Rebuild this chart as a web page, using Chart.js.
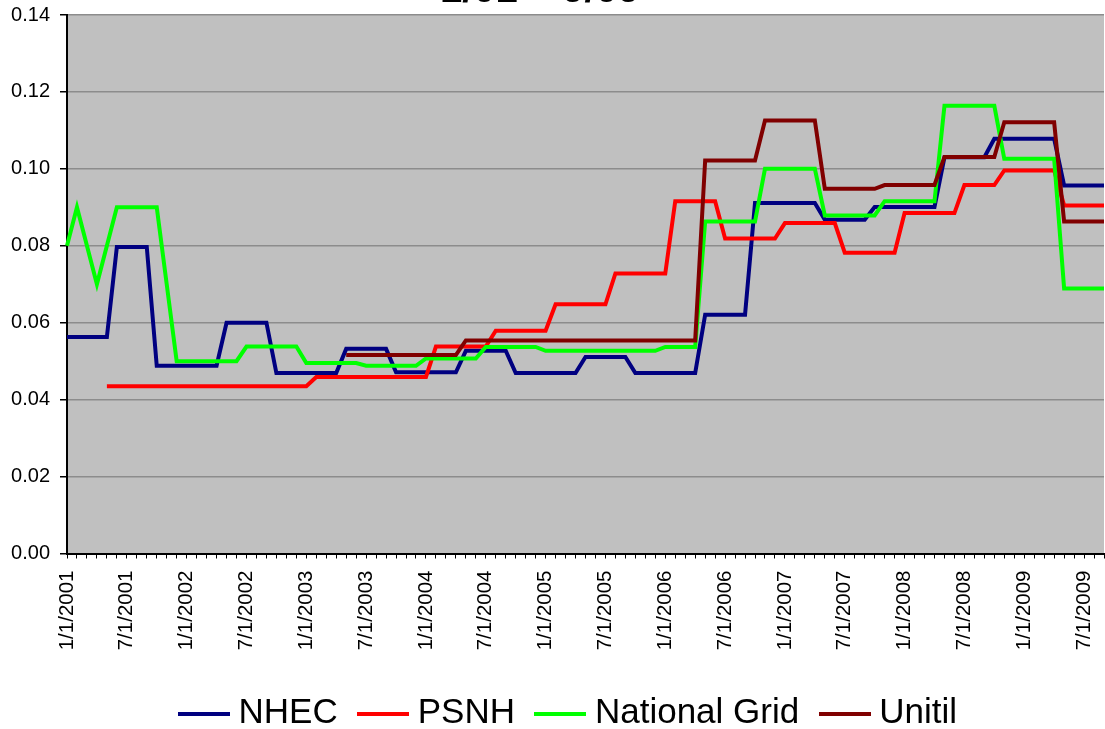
<!DOCTYPE html>
<html>
<head>
<meta charset="utf-8">
<script src="https://cdn.jsdelivr.net/npm/chart.js@4.4.0/dist/chart.umd.min.js"></script>
<style>
  html, body { margin: 0; padding: 0; overflow: hidden; background: #fff; width: 1105px; height: 729px; }
  /* canvas is a bit taller than the window: the title runs off the top like in the original */
  #wrap { position: absolute; left: 0; top: -40px; width: 1105px; height: 781px; }
</style>
</head>
<body>
<div id="wrap"><canvas id="rates"></canvas></div>
<script>
// monthly default service rates ($/kWh), Jan 2001 .. Sep 2009
const months = [];
for (let y = 2001; y <= 2009; y++) {
  for (let m = 1; m <= 12; m++) {
    if (y === 2009 && m > 9) break;
    months.push(m + '/1/' + y);
  }
}

const nhec = [
  0.0563, 0.0563, 0.0563, 0.0563, 0.0563, 0.0797, 0.0797, 0.0797, 0.0797, 0.0488, 0.0488, 0.0488,
  0.0488, 0.0488, 0.0488, 0.0488, 0.0600, 0.0600, 0.0600, 0.0600, 0.0600, 0.0469, 0.0469, 0.0469,
  0.0469, 0.0469, 0.0469, 0.0469, 0.0532, 0.0532, 0.0532, 0.0532, 0.0532, 0.0471, 0.0471, 0.0471,
  0.0471, 0.0471, 0.0471, 0.0471, 0.0527, 0.0527, 0.0527, 0.0527, 0.0527, 0.0469, 0.0469, 0.0469,
  0.0469, 0.0469, 0.0469, 0.0469, 0.0511, 0.0511, 0.0511, 0.0511, 0.0511, 0.0469, 0.0469, 0.0469,
  0.0469, 0.0469, 0.0469, 0.0469, 0.0621, 0.0621, 0.0621, 0.0621, 0.0621, 0.0911, 0.0911, 0.0911,
  0.0911, 0.0911, 0.0911, 0.0911, 0.0868, 0.0868, 0.0868, 0.0868, 0.0868, 0.0901, 0.0901, 0.0901,
  0.0901, 0.0901, 0.0901, 0.0901, 0.1030, 0.1030, 0.1030, 0.1030, 0.1030, 0.1078, 0.1078, 0.1078,
  0.1078, 0.1078, 0.1078, 0.1078, 0.0957, 0.0957, 0.0957, 0.0957, 0.0957
];
const psnh = [
  null, null, null, null, 0.0435, 0.0435, 0.0435, 0.0435, 0.0435, 0.0435, 0.0435, 0.0435,
  0.0435, 0.0435, 0.0435, 0.0435, 0.0435, 0.0435, 0.0435, 0.0435, 0.0435, 0.0435, 0.0435, 0.0435,
  0.0435, 0.0459, 0.0459, 0.0459, 0.0459, 0.0459, 0.0459, 0.0459, 0.0459, 0.0459, 0.0459, 0.0459,
  0.0459, 0.0538, 0.0538, 0.0538, 0.0538, 0.0538, 0.0538, 0.0579, 0.0579, 0.0579, 0.0579, 0.0579,
  0.0579, 0.0648, 0.0648, 0.0648, 0.0648, 0.0648, 0.0648, 0.0728, 0.0728, 0.0728, 0.0728, 0.0728,
  0.0728, 0.0916, 0.0916, 0.0916, 0.0916, 0.0916, 0.0819, 0.0819, 0.0819, 0.0819, 0.0819, 0.0819,
  0.0859, 0.0859, 0.0859, 0.0859, 0.0859, 0.0859, 0.0782, 0.0782, 0.0782, 0.0782, 0.0782, 0.0782,
  0.0885, 0.0885, 0.0885, 0.0885, 0.0885, 0.0885, 0.0958, 0.0958, 0.0958, 0.0958, 0.0996, 0.0996,
  0.0996, 0.0996, 0.0996, 0.0996, 0.0905, 0.0905, 0.0905, 0.0905, 0.0905
];
const nationalGrid = [
  0.0800, 0.0900, 0.0800, 0.0700, 0.0800, 0.0900, 0.0900, 0.0900, 0.0900, 0.0900, 0.0700, 0.0500,
  0.0500, 0.0500, 0.0500, 0.0500, 0.0500, 0.0500, 0.0538, 0.0538, 0.0538, 0.0538, 0.0538, 0.0538,
  0.0495, 0.0495, 0.0495, 0.0495, 0.0495, 0.0495, 0.0488, 0.0488, 0.0488, 0.0488, 0.0488, 0.0488,
  0.0507, 0.0507, 0.0507, 0.0507, 0.0507, 0.0507, 0.0537, 0.0537, 0.0537, 0.0537, 0.0537, 0.0537,
  0.0527, 0.0527, 0.0527, 0.0527, 0.0527, 0.0527, 0.0527, 0.0527, 0.0527, 0.0527, 0.0527, 0.0527,
  0.0537, 0.0537, 0.0537, 0.0537, 0.0863, 0.0863, 0.0863, 0.0863, 0.0863, 0.0863, 0.1000, 0.1000,
  0.1000, 0.1000, 0.1000, 0.1000, 0.0879, 0.0879, 0.0879, 0.0879, 0.0879, 0.0879, 0.0916, 0.0916,
  0.0916, 0.0916, 0.0916, 0.0916, 0.1164, 0.1164, 0.1164, 0.1164, 0.1164, 0.1164, 0.1026, 0.1026,
  0.1026, 0.1026, 0.1026, 0.1026, 0.0689, 0.0689, 0.0689, 0.0689, 0.0689
];
const unitil = [
  null, null, null, null, null, null, null, null, null, null, null, null,
  null, null, null, null, null, null, null, null, null, null, null, null,
  null, null, null, null, 0.0516, 0.0516, 0.0516, 0.0516, 0.0516, 0.0516, 0.0516, 0.0516,
  0.0516, 0.0516, 0.0516, 0.0516, 0.0554, 0.0554, 0.0554, 0.0554, 0.0554, 0.0554, 0.0554, 0.0554,
  0.0554, 0.0554, 0.0554, 0.0554, 0.0554, 0.0554, 0.0554, 0.0554, 0.0554, 0.0554, 0.0554, 0.0554,
  0.0554, 0.0554, 0.0554, 0.0554, 0.1022, 0.1022, 0.1022, 0.1022, 0.1022, 0.1022, 0.1126, 0.1126,
  0.1126, 0.1126, 0.1126, 0.1126, 0.0948, 0.0948, 0.0948, 0.0948, 0.0948, 0.0948, 0.0958, 0.0958,
  0.0958, 0.0958, 0.0958, 0.0958, 0.1031, 0.1031, 0.1031, 0.1031, 0.1031, 0.1031, 0.1121, 0.1121,
  0.1121, 0.1121, 0.1121, 0.1121, 0.0863, 0.0863, 0.0863, 0.0863, 0.0863
];

const seriesNames = ['NHEC', 'PSNH', 'National Grid', 'Unitil'];
const seriesColors = ['#000080', '#ff0000', '#00ff00', '#800000'];
const yTicks = [0, 0.02, 0.04, 0.06, 0.08, 0.10, 0.12, 0.14];

const FONT = '"Liberation Sans", Arial, sans-serif';

// grey plot area like the old Excel default
const plotBackground = {
  id: 'plotBackground',
  beforeDraw(chart) {
    const {ctx, chartArea: a} = chart;
    ctx.save();
    ctx.fillStyle = '#c0c0c0';
    ctx.fillRect(a.left, a.top, a.right - a.left, a.bottom - a.top);
    ctx.restore();
  }
};

// nudge title and legend sideways, the excel original is not centred on the canvas
const nudge = {
  id: 'nudge',
  afterLayout(chart) {
    chart.titleBlock.left -= 12;
    chart.titleBlock.right -= 12;
    chart.legend.left += 20;
    chart.legend.right += 20;
  }
};

// legend swatch: a short thick line, wider than the legend box so the text sits close
function swatch(color) {
  const c = document.createElement('canvas');
  c.width = 52;
  c.height = 4;
  const g = c.getContext('2d');
  g.fillStyle = color;
  g.fillRect(0, 0, 52, 4);
  return c;
}

function line(name, data, color, order) {
  return {
    label: name,
    data: data,
    borderColor: color,
    backgroundColor: color,
    borderWidth: 4,
    pointRadius: 0,
    pointStyle: swatch(color),
    tension: 0,
    fill: false,
    order: order
  };
}

const ctx = document.getElementById('rates').getContext('2d');
new Chart(ctx, {
  type: 'line',
  data: {
    labels: months,
    datasets: [
      line(seriesNames[0], nhec, seriesColors[0], 4),
      line(seriesNames[1], psnh, seriesColors[1], 3),
      line(seriesNames[2], nationalGrid, seriesColors[2], 2),
      line(seriesNames[3], unitil, seriesColors[3], 1)
    ]
  },
  options: {
    responsive: true,
    maintainAspectRatio: false,
    animation: false,
    layout: { padding: { left: 0, right: 1, top: 0, bottom: 0 } },
    plugins: {
      title: {
        display: true,
        text: '1/01 \u2013 9/09',
        color: '#000',
        font: { family: FONT, size: 40, weight: 'bold' },
        padding: { top: 7, bottom: 0 }
      },
      legend: {
        position: 'bottom',
        labels: {
          usePointStyle: true,
          pointStyleWidth: 34,
          padding: 28.5,
          color: '#000',
          font: { family: FONT, size: 35 },
          sort: (a, b) => a.datasetIndex - b.datasetIndex
        }
      },
      tooltip: { enabled: false }
    },
    scales: {
      x: {
        type: 'category',
        offset: false,
        afterFit: (scale) => { scale.height = 114; scale.paddingLeft = 0; scale.paddingRight = 0; },
        border: { color: '#000', width: 2 },
        grid: {
          drawOnChartArea: false,
          drawTicks: true,
          tickLength: 5,
          tickColor: '#000',
          tickWidth: 1
        },
        ticks: {
          autoSkip: false,
          minRotation: 90,
          maxRotation: 90,
          padding: 12,
          color: '#000',
          font: { family: FONT, size: 20.5 },
          callback: (v, i) => (i % 6 === 0 ? months[i] : '')
        }
      },
      y: {
        min: 0,
        max: 0.14,
        afterFit: (scale) => { scale.width = 67; scale.paddingTop = 0; scale.paddingBottom = 0; },
        afterBuildTicks: (scale) => { scale.ticks = yTicks.map(v => ({ value: v })); },
        border: { color: '#000', width: 2 },
        grid: {
          color: '#8c8c8c',
          lineWidth: 1.5,
          tickLength: 7,
          tickColor: '#000'
        },
        ticks: {
          padding: 10,
          color: '#000',
          font: { family: FONT, size: 20 },
          callback: (v) => v.toFixed(2)
        }
      }
    }
  },
  plugins: [plotBackground, nudge]
});
</script>
</body>
</html>
